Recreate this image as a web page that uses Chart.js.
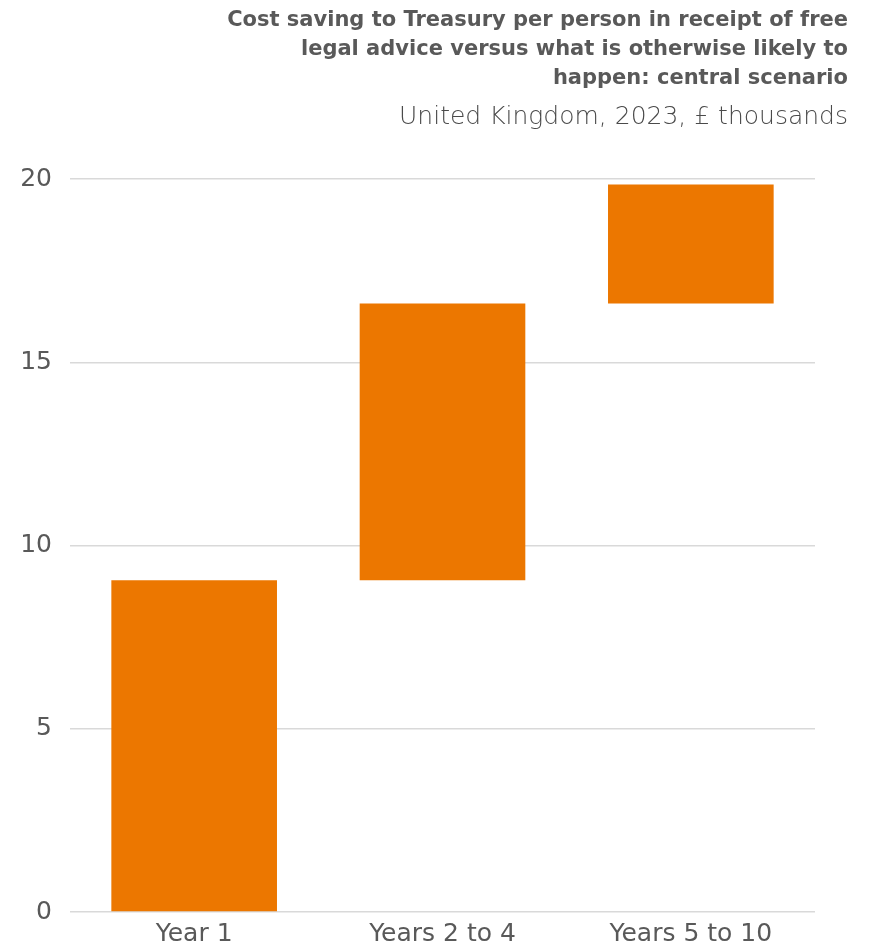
<!DOCTYPE html>
<html>
<head>
<meta charset="utf-8">
<script src="https://cdn.jsdelivr.net/npm/chart.js@4.4.1/dist/chart.umd.min.js"></script>
<style>
  body { margin: 0; background: #fff; }
  #wrap { position: relative; width: 872px; height: 947px; }
  #heading {
    position: absolute; top: 5px; right: 24px;
    text-align: right; color: #595959;
    font-family: "DejaVu Sans", sans-serif;
  }
  #heading .main { font-weight: bold; font-size: 21px; line-height: 29px; }
  #heading .sub { font-size: 25px; line-height: 32px; margin-top: 8px; font-weight: 200; color: #4a4a4a; }
</style>
</head>
<body>
<div id="wrap">
  <canvas id="myChart"></canvas>
  <div id="heading">
    <div class="main">Cost saving to Treasury per person in receipt of free<br>legal advice versus what is otherwise likely to<br>happen: central scenario</div>
    <div class="sub">United Kingdom, 2023, £ thousands</div>
  </div>
</div>
<script>
// running total of the saving at the end of each period, £ thousands
const periods = ['Year 1', 'Years 2 to 4', 'Years 5 to 10'];
const runningTotal = [9.05, 16.6, 19.85];
const yTicks = [0, 5, 10, 15, 20];

// each bar floats from the previous total up to its own
const bars = runningTotal.map((top, i) => [i === 0 ? 0 : runningTotal[i - 1], top]);

const grey = '#595959';
const font = { family: '"DejaVu Sans", sans-serif', size: 25 };

let ctx = document.getElementById('myChart').getContext('2d');
let chartJS = new Chart(ctx, {
    type: 'bar',
    data: {
        labels: periods,
        datasets: [{
            data: bars,
            backgroundColor: '#EC7700',
            borderWidth: 0,
            barPercentage: 1,
            categoryPercentage: 0.667
        }]
    },
    options: {
        responsive: true,
        maintainAspectRatio: false,
        animation: false,
        layout: { padding: { top: 179, right: 57, left: 0, bottom: 0 } },
        plugins: { legend: { display: false }, tooltip: { enabled: false } },
        scales: {
            x: {
                grid: { display: false, drawTicks: false },
                border: { display: false },
                ticks: { color: grey, font: font, padding: 7, maxRotation: 0 },
                afterFit: (scale) => { scale.height = 35; }
            },
            y: {
                min: 0,
                max: 20,
                afterBuildTicks: (scale) => { scale.ticks = yTicks.map(v => ({ value: v })); },
                grid: { color: '#d9d9d9', lineWidth: 1.5, drawTicks: false },
                border: { display: false },
                ticks: { color: grey, font: font, padding: 18 },
                afterFit: (scale) => { scale.width = 70; }
            }
        }
    }
});
</script>
</body>
</html>
